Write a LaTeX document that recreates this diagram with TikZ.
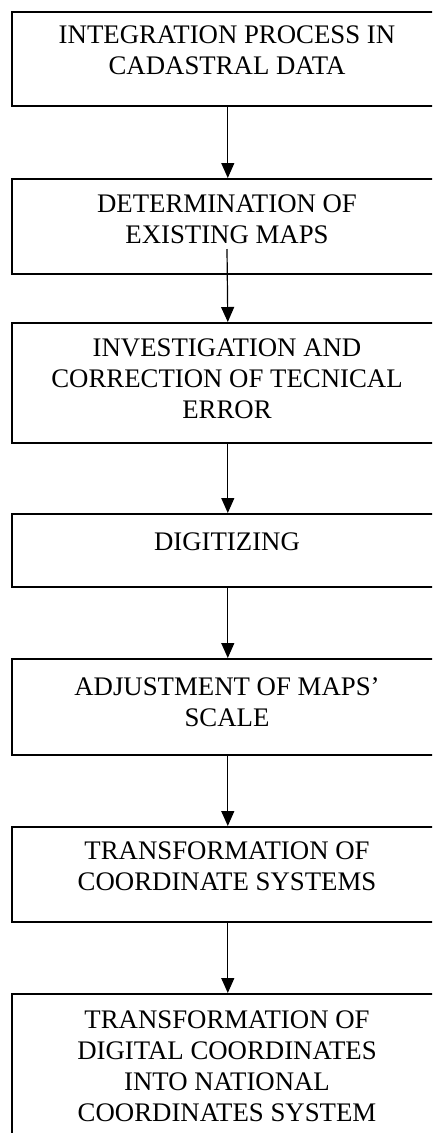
\documentclass[tikz,border=0pt]{standalone}
\usepackage{fontspec}
\setmainfont{Liberation Serif}
\usetikzlibrary{arrows.meta}

\tikzset{
  stepbox/.style={draw=black, line width=1.6pt, rectangle, inner sep=0pt,
                  minimum width=432pt, anchor=north west},
  steptext/.style={anchor=north, inner sep=0pt, align=center,
                   font=\fontsize{26.8}{31}\selectfont},
  flow/.style={line width=1.2pt, -{Triangle[length=15pt, width=13pt]}}
}

\begin{document}
\begin{tikzpicture}[x=1pt, y=-1pt]
  % page frame
  \path[use as bounding box, fill=white] (0,0) rectangle (432,1133);
  \clip (0,0) rectangle (432,1133);

  % process boxes
  \node[stepbox, minimum height=94pt]  (b1) at (11,11)  {};
  \node[stepbox, minimum height=95pt]  (b2) at (11,178) {};
  \node[stepbox, minimum height=120pt] (b3) at (11,322) {};
  \node[stepbox, minimum height=73pt]  (b4) at (11,513) {};
  \node[stepbox, minimum height=96pt]  (b5) at (11,658) {};
  \node[stepbox, minimum height=95pt]  (b6) at (11,826) {};
  \node[stepbox, minimum height=170pt] (b7) at (11,993) {};

  % box labels
  \node[steptext] (t1) at (227,26)   {INTEGRATION PROCESS IN\\CADASTRAL DATA};
  \node[steptext] (t2) at (227,195)  {DETERMINATION OF\\EXISTING MAPS};
  \node[steptext] (t3) at (227,339)  {INVESTIGATION AND\\CORRECTION OF TECNICAL\\ERROR};
  \node[steptext] (t4) at (227,533)  {DIGITIZING};
  \node[steptext] (t5) at (227,677)  {ADJUSTMENT OF MAPS’\\SCALE};
  \node[steptext] (t6) at (227,842)  {TRANSFORMATION OF\\COORDINATE SYSTEMS};
  \node[steptext] (t7) at (227,1011) {TRANSFORMATION OF\\DIGITAL COORDINATES\\INTO NATIONAL\\COORDINATES SYSTEM};

  % connectors
  \coordinate (s2) at (227,249);
  \draw[flow] (b1.south) -- (b2.north);
  \draw[flow] (s2) -- (b3.north);
  \draw[flow] (b3.south) -- (b4.north);
  \draw[flow] (b4.south) -- (b5.north);
  \draw[flow] (b5.south) -- (b6.north);
  \draw[flow] (b6.south) -- (b7.north);
\end{tikzpicture}
\end{document}
